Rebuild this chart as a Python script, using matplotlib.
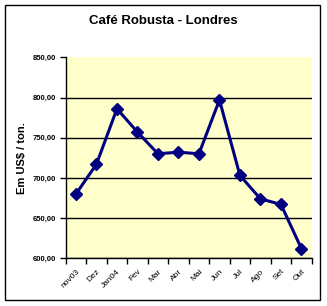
import matplotlib
matplotlib.use("Agg")
import matplotlib.pyplot as plt
from matplotlib.patches import Rectangle
from matplotlib.ticker import FuncFormatter

# Monthly prices, robusta coffee in London (US$ / ton)
months = ['nov03', 'Dez', 'Jan04', 'Fev', 'Mar', 'Abr', 'Mai', 'Jun', 'Jul', 'Ago', 'Set', 'Out']
prices = [680, 717, 786, 757, 730, 732, 730, 797, 703, 674, 667, 612]
y_ticks = [600, 650, 700, 750, 800, 850]

plt.rcParams['font.family'] = ['Liberation Sans', 'DejaVu Sans']

fig = plt.figure(figsize=(3.27, 3.06), dpi=100)
fig.patch.set_facecolor('white')

# outer chart border
fig.patches.append(Rectangle((5 / 327, 1 - 300 / 306), 315 / 327, 295 / 306,
                             transform=fig.transFigure, fill=False,
                             edgecolor='black', linewidth=1.0))

ax = fig.add_axes([65.7 / 327, 1 - 258.3 / 306, 246 / 327, 201 / 306])
ax.set_facecolor('#FFFFCC')

x = list(range(len(months)))
ax.plot(x, prices, color='#000080', linewidth=2.2, marker='D', markersize=6.5,
        markerfacecolor='#000080', markeredgecolor='#000080', zorder=3)

ax.set_xlim(-0.5, len(months) - 0.5)
ax.set_ylim(600, 850)
ax.set_yticks(y_ticks)
ax.yaxis.set_major_formatter(FuncFormatter(lambda v, p: f"{v:.2f}".replace('.', ',')))
ax.grid(axis='y', color='black', linewidth=1.0)
ax.set_axisbelow(True)
# no gridline along the top edge
ax.get_ygridlines()[-1].set_visible(False)

ax.set_xticks(x)
ax.set_xticklabels(months, rotation=45, ha='right', rotation_mode='anchor', fontsize=6)
# category boundary ticks
ax.set_xticks([i - 0.5 for i in range(len(months) + 1)], minor=True)
ax.tick_params(axis='x', which='major', length=0, pad=7)
ax.tick_params(axis='x', which='minor', length=4, direction='out', width=1)
ax.tick_params(axis='y', labelsize=5.5, length=4, width=1, direction='out', pad=3)
for lab in ax.get_yticklabels():
    lab.set_fontweight('bold')

for side in ['top', 'right']:
    ax.spines[side].set_visible(False)
for side in ['left', 'bottom']:
    ax.spines[side].set_linewidth(1.0)
    ax.spines[side].set_color('black')

ax.set_ylabel('Em US$ / ton.', fontsize=8, fontweight='bold')
ax.yaxis.set_label_coords(-0.157, 0.5)
fig.text(0.50, 1 - 21 / 306, 'Café Robusta - Londres', ha='center', va='center',
         fontsize=9.5, fontweight='bold')

fig.savefig('out.png', dpi=100)
